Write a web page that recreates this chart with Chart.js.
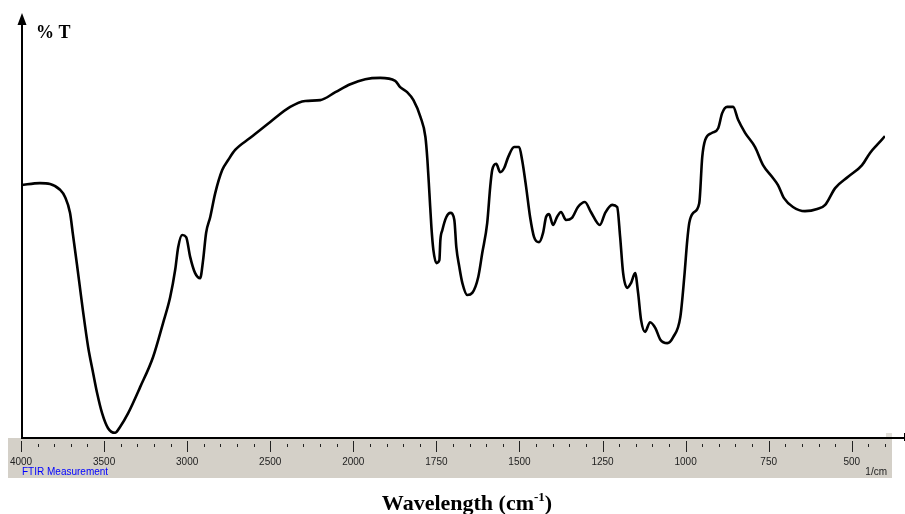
<!DOCTYPE html>
<html>
<head>
<meta charset="utf-8">
<script src="https://cdn.jsdelivr.net/npm/chart.js@4/dist/chart.umd.min.js"></script>
<style>
  html, body { margin: 0; padding: 0; background: #fff; }
  #wrap { width: 905px; height: 514px; position: relative; }
</style>
</head>
<body>
<div id="wrap"><canvas id="ftirChart"></canvas></div>
<script>
// --- Spectrum data (wavenumber in cm-1, %T) ---
const wavenumbers = [
  4000, 3886, 3825, 3765, 3735, 3705, 3687, 3663, 3645, 3627, 3596, 3566, 3542, 3512, 3476, 3434,
  3404, 3355, 3283,
  3205, 3145, 3102, 3072, 3054, 3030, 3006, 2982, 2952, 2922, 2904, 2886, 2861, 2831, 2789, 2753,
  2711, 2620, 2500, 2380, 2289, 2199, 2108, 2018, 1964, 1919, 1874, 1859, 1838, 1819, 1798, 1783,
  1777, 1771, 1765, 1759, 1750, 1741, 1738, 1732, 1720, 1708, 1696, 1690, 1681, 1672, 1657, 1642,
  1624, 1612, 1597, 1588, 1582, 1570, 1558, 1546, 1534, 1516, 1501, 1492, 1480, 1468, 1456, 1441,
  1429, 1420, 1411, 1399, 1387, 1375, 1360, 1342, 1324, 1303, 1285, 1258, 1242, 1221, 1206, 1197,
  1188, 1176, 1164, 1152, 1143, 1134, 1122, 1107, 1091, 1076, 1055, 1037, 1016, 1004, 995, 989,
  977, 959, 950, 941, 920, 902, 890, 875, 857, 842, 821, 791, 767, 740, 722, 704,
  677, 641, 604, 580, 550, 511, 469, 445, 424, 400
];
const transmittance = [
  60.1, 60.6, 60.4, 59.0, 57.3, 53.5, 48.2, 41.1, 35.6, 30.1, 21.5, 15.3, 10.5, 5.7, 2.1, 1.0,
  2.4, 5.7, 11.9,
  19.1, 27.2, 33.4, 39.9, 45.3, 48.2, 47.7, 43.0, 39.1, 37.9, 42.2, 48.7, 52.5, 58.2, 63.7, 66.1,
  68.5, 71.4, 75.2, 78.8, 80.2, 80.4, 82.3, 84.2, 85.4, 85.7, 85.0, 83.5, 82.3, 80.4, 76.4, 71.6,
  66.1, 58.2, 50.1, 44.6, 41.5, 42.2, 47.0, 49.4, 52.5, 53.5, 51.8, 45.3, 40.6, 36.8, 33.9, 34.4,
  38.2, 43.9, 51.1, 59.7, 63.7, 65.2, 63.2, 64.2, 66.8, 69.2, 69.2, 66.1, 59.7, 52.5, 47.7, 46.5,
  48.7, 52.5, 53.2, 50.6, 52.5, 53.7, 51.8, 52.3, 54.9, 56.1, 53.7, 50.6, 53.5, 55.4, 54.9, 47.7,
  39.1, 35.6, 36.8, 39.1, 34.4, 27.9, 25.1, 27.4, 26.0, 23.2, 22.4, 23.9, 28.6, 38.2, 47.0, 51.1,
  53.5, 55.8, 66.8, 70.9, 72.6, 73.7, 77.3, 78.8, 78.8, 75.7, 72.6, 69.2, 64.9, 62.1, 60.1, 57.0,
  54.9, 53.9, 54.4, 55.4, 59.4, 62.1, 64.9, 67.8, 69.7, 71.8
];
const majorTicks = [4000, 3500, 3000, 2500, 2000, 1750, 1500, 1250, 1000, 750, 500];
const axisUnit = '1/cm';
const footerText = 'FTIR Measurement';
const yLabel = '% T';
const xTitle = 'Wavelength (cm';
const xTitleSup = '-1';

// The instrument axis is compressed 2:1 above 2000 cm-1, so map wavenumber onto a linear axis coordinate
function toAxis(wn) {
  return wn >= 2000 ? 4000 - wn : 2000 + (2000 - wn) * 2;
}

// minor ticks: every 100 cm-1 above 2000, every 50 cm-1 below
const minorTicks = [];
for (let w = 4000; w > 2000; w -= 100) minorTicks.push(w);
for (let w = 2000; w >= 400; w -= 50) minorTicks.push(w);

const points = wavenumbers.map((wn, i) => ({ x: toAxis(wn), y: transmittance[i] }));

// --- Plugin: instrument style axis strip, arrow axis and labels ---
const ftirFrame = {
  id: 'ftirFrame',
  beforeDatasetsDraw(chart) {
    const { ctx, chartArea, scales } = chart;
    const xs = scales.x;
    const bottom = chartArea.bottom;
    ctx.save();

    // grey scale strip
    ctx.fillStyle = '#d4d0c8';
    ctx.fillRect(8, bottom + 1, 884, 40);
    ctx.fillStyle = '#e2e0da';
    ctx.fillRect(886, bottom - 4, 6, 6);

    // ticks
    ctx.strokeStyle = '#222';
    ctx.lineWidth = 1;
    minorTicks.forEach(w => {
      const px = Math.round(xs.getPixelForValue(toAxis(w))) + 0.5;
      const isMajor = majorTicks.includes(w);
      ctx.beginPath();
      ctx.moveTo(px, bottom + (isMajor ? 4 : 7));
      ctx.lineTo(px, bottom + (isMajor ? 15 : 10));
      ctx.stroke();
    });

    ctx.fillStyle = '#222';
    ctx.font = '10px "Liberation Sans", Arial, sans-serif';
    ctx.textAlign = 'center';
    ctx.textBaseline = 'middle';
    majorTicks.forEach(w => {
      ctx.fillText(String(w), xs.getPixelForValue(toAxis(w)), bottom + 25);
    });
    ctx.textAlign = 'right';
    ctx.fillText(axisUnit, 887, bottom + 35);
    ctx.textAlign = 'left';
    ctx.fillStyle = '#0000ff';
    ctx.fillText(footerText, 22, bottom + 35);

    // x axis line
    ctx.strokeStyle = '#000';
    ctx.lineWidth = 2;
    ctx.beginPath();
    ctx.moveTo(chartArea.left, bottom + 1);
    ctx.lineTo(905, bottom + 1);
    ctx.stroke();
    ctx.lineWidth = 1;
    ctx.beginPath();
    ctx.moveTo(904.5, bottom - 4);
    ctx.lineTo(904.5, bottom + 4);
    ctx.stroke();

    // y axis with arrow
    const ax = chartArea.left + 1;
    ctx.lineWidth = 2;
    ctx.beginPath();
    ctx.moveTo(ax, bottom + 1);
    ctx.lineTo(ax, 24);
    ctx.stroke();
    ctx.fillStyle = '#000';
    ctx.beginPath();
    ctx.moveTo(ax, 13);
    ctx.lineTo(ax - 4.5, 25);
    ctx.lineTo(ax + 4.5, 25);
    ctx.closePath();
    ctx.fill();

    // y label
    ctx.font = 'bold 18px "Liberation Serif", "Times New Roman", serif';
    ctx.textAlign = 'left';
    ctx.textBaseline = 'alphabetic';
    ctx.fillText(yLabel, 36, 38);

    // x title with superscript
    ctx.font = 'bold 22px "Liberation Serif", "Times New Roman", serif';
    const mainW = ctx.measureText(xTitle).width;
    ctx.font = 'bold 13px "Liberation Serif", "Times New Roman", serif';
    const supW = ctx.measureText(xTitleSup).width;
    ctx.font = 'bold 22px "Liberation Serif", "Times New Roman", serif';
    const closeW = ctx.measureText(')').width;
    let tx = 467 - (mainW + supW + closeW) / 2;
    ctx.fillText(xTitle, tx, 510);
    tx += mainW;
    ctx.font = 'bold 13px "Liberation Serif", "Times New Roman", serif';
    ctx.fillText(xTitleSup, tx, 501);
    tx += supW;
    ctx.font = 'bold 22px "Liberation Serif", "Times New Roman", serif';
    ctx.fillText(')', tx, 510);

    ctx.restore();
  }
};

new Chart(document.getElementById('ftirChart').getContext('2d'), {
  type: 'line',
  data: {
    datasets: [{
      label: 'Spectrum',
      data: points,
      borderColor: '#000',
      borderWidth: 2.6,
      pointRadius: 0,
      cubicInterpolationMode: 'monotone',
      fill: false
    }]
  },
  options: {
    responsive: true,
    maintainAspectRatio: false,
    animation: false,
    layout: { padding: { left: 21, right: 20, top: 18, bottom: 77 } },
    plugins: { legend: { display: false }, tooltip: { enabled: false }, title: { display: false } },
    scales: {
      x: { type: 'linear', min: 0, max: 5200, display: false },
      y: { min: 0, max: 100, display: false }
    }
  },
  plugins: [ftirFrame]
});
</script>
</body>
</html>
